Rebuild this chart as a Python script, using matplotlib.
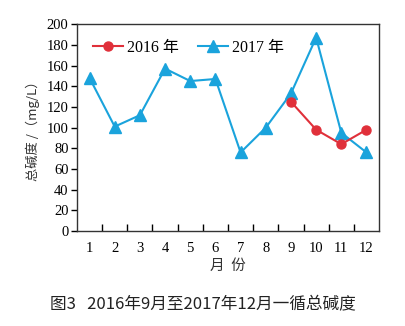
import numpy as np
import matplotlib
matplotlib.use("Agg")
import matplotlib.pyplot as plt

plt.rcParams['font.family'] = ['Liberation Serif', 'Noto Sans CJK SC']

months = [1, 2, 3, 4, 5, 6, 7, 8, 9, 10, 11, 12]
alk_2017 = [148, 101, 112, 157, 145, 147, 76, 100, 133, 187, 95, 76]
months_2016 = [9, 10, 11, 12]
alk_2016 = [125, 98, 84, 98]

red = "#e0303a"
blue = "#1aa3dc"

fig = plt.figure(figsize=(4.05, 3.26), dpi=100)
ax = fig.add_axes([0.190, 0.291, 0.746, 0.635])

ax.plot(months_2016, alk_2016, color=red, marker='o', markersize=6.5,
        linewidth=1.5, label='2016 年', zorder=3)
ax.plot(months, alk_2017, color=blue, marker='^', markersize=8,
        linewidth=1.5, label='2017 年', zorder=2)

ax.set_xlim(0.5, 12.5)
ax.set_ylim(0, 200)
ax.set_yticks(np.arange(0, 201, 20))
ax.set_xticks(months)
ax.set_xticklabels([str(m) for m in months])
ax.set_xticks(np.arange(1.5, 12, 1), minor=True)
ax.tick_params(axis='x', which='major', length=0, pad=8, labelsize=10.5)
ax.tick_params(axis='x', which='minor', direction='in', length=5, width=1)
ax.tick_params(axis='y', direction='out', length=4, width=1, labelsize=10.5, pad=2)
for s in ax.spines.values():
    s.set_linewidth(1.0)
    s.set_color('#333333')

ax.set_xlabel('月  份', family=['Noto Sans CJK SC'], fontsize=10.5, color='#333333', labelpad=3)
ax.set_ylabel('总碱度 /（mg/L）', family=['Noto Sans CJK SC', 'Liberation Serif'],
              fontsize=9.5, color='#333333', labelpad=5)

ax.legend(loc='upper left', ncol=2, frameon=False,
          handlelength=1.9, columnspacing=1.2, handletextpad=0.25,
          bbox_to_anchor=(0.02, 0.97), borderaxespad=0.2,
          prop={'family': ['Liberation Serif', 'Noto Sans CJK SC'], 'size': 11.5})

fig.text(0.5, 0.065, '图3   2016年9月至2017年12月一循总碱度', ha='center', va='center',
         fontsize=12, family=['Noto Sans CJK SC'], color='#222222')

fig.savefig('out.png', dpi=100)
